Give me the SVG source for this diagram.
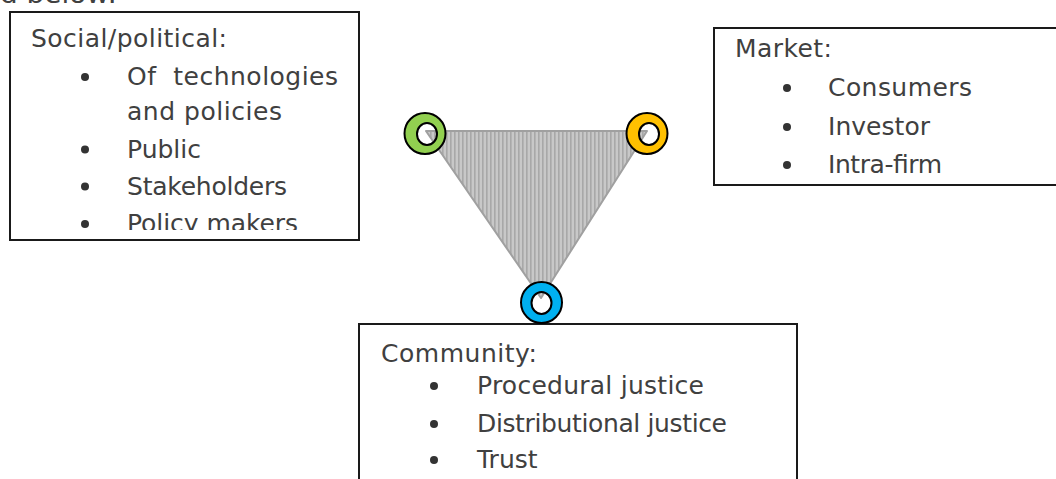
<svg xmlns="http://www.w3.org/2000/svg" width="1056" height="479" viewBox="0 0 1056 479">
  <style>
    .t { font-family: "DejaVu Sans", "Liberation Sans", sans-serif; font-size: 25px; fill: #404040; }
    .box { fill: #ffffff; stroke: #1a1a1a; stroke-width: 2; }
    .bul { fill: #333333; }
    .ring { fill-rule: evenodd; stroke: #000000; stroke-width: 2; }
  </style>
  <defs>
    <pattern id="stripes" width="4" height="10" patternUnits="userSpaceOnUse">
      <rect width="4" height="10" fill="#c8c8c8"/>
      <rect x="2" width="1.6" height="10" fill="#a8a8a8"/>
    </pattern>
    <clipPath id="clipLeft">
      <rect x="10" y="12" width="349" height="218"/>
    </clipPath>
  </defs>
  <rect width="1056" height="479" fill="#ffffff"/>

  <text class="t" x="0" y="3" textLength="117" lengthAdjust="spacingAndGlyphs">d below:</text>

  <g id="social">
    <rect class="box" x="10" y="12" width="349" height="228"/>
    <g clip-path="url(#clipLeft)">
      <text class="t" x="31" y="47" textLength="196">Social/political:</text>
      <circle class="bul" cx="85" cy="77" r="4"/>
      <text class="t" x="127" y="85" textLength="211" xml:space="preserve">Of  technologies</text>
      <text class="t" x="127" y="120" textLength="155">and policies</text>
      <circle class="bul" cx="85" cy="149.5" r="4"/>
      <text class="t" x="127" y="158" textLength="74">Public</text>
      <circle class="bul" cx="85" cy="186.5" r="4"/>
      <text class="t" x="127" y="195" textLength="160">Stakeholders</text>
      <circle class="bul" cx="85" cy="224" r="4"/>
      <text class="t" x="127" y="232" textLength="171">Policy makers</text>
    </g>
  </g>

  <g id="market">
    <rect class="box" x="714" y="28" width="350" height="157"/>
    <text class="t" x="735" y="57" textLength="97">Market:</text>
    <circle class="bul" cx="787" cy="88" r="4"/>
    <text class="t" x="828" y="96" textLength="144">Consumers</text>
    <circle class="bul" cx="787" cy="127" r="4"/>
    <text class="t" x="828" y="135" textLength="102">Investor</text>
    <circle class="bul" cx="787" cy="165" r="4"/>
    <text class="t" x="828" y="173" textLength="114">Intra-firm</text>
  </g>

  <g id="community">
    <rect class="box" x="359" y="324" width="438" height="170"/>
    <text class="t" x="381" y="362" textLength="156">Community:</text>
    <circle class="bul" cx="434" cy="386" r="4"/>
    <text class="t" x="477" y="394" textLength="227">Procedural justice</text>
    <circle class="bul" cx="434" cy="424" r="4"/>
    <text class="t" x="477" y="432" textLength="250">Distributional justice</text>
    <circle class="bul" cx="434" cy="460" r="4"/>
    <text class="t" x="477" y="468">Trust</text>
  </g>

  <g id="connectors">
    <polygon points="426,131 647,131 541,298" fill="url(#stripes)" stroke="#a0a0a0" stroke-width="2" stroke-linejoin="round"/>
  </g>

  <g id="node-green">
    <path class="ring" fill="#92d050" d="M404.5,133.5 a20.5,20.5 0 1,0 41,0 a20.5,20.5 0 1,0 -41,0 Z M417,134 a10,11 0 1,0 20,0 a10,11 0 1,0 -20,0 Z"/>
  </g>
  <g id="node-orange">
    <path class="ring" fill="#ffc000" d="M626.5,133.5 a20.5,20.5 0 1,0 41,0 a20.5,20.5 0 1,0 -41,0 Z M639,134 a10,11 0 1,0 20,0 a10,11 0 1,0 -20,0 Z"/>
  </g>
  <g id="node-blue">
    <path class="ring" fill="#00b0f0" d="M521,302.5 a20.5,20.5 0 1,0 41,0 a20.5,20.5 0 1,0 -41,0 Z M531.5,303 a10,11 0 1,0 20,0 a10,11 0 1,0 -20,0 Z"/>
  </g>
</svg>
